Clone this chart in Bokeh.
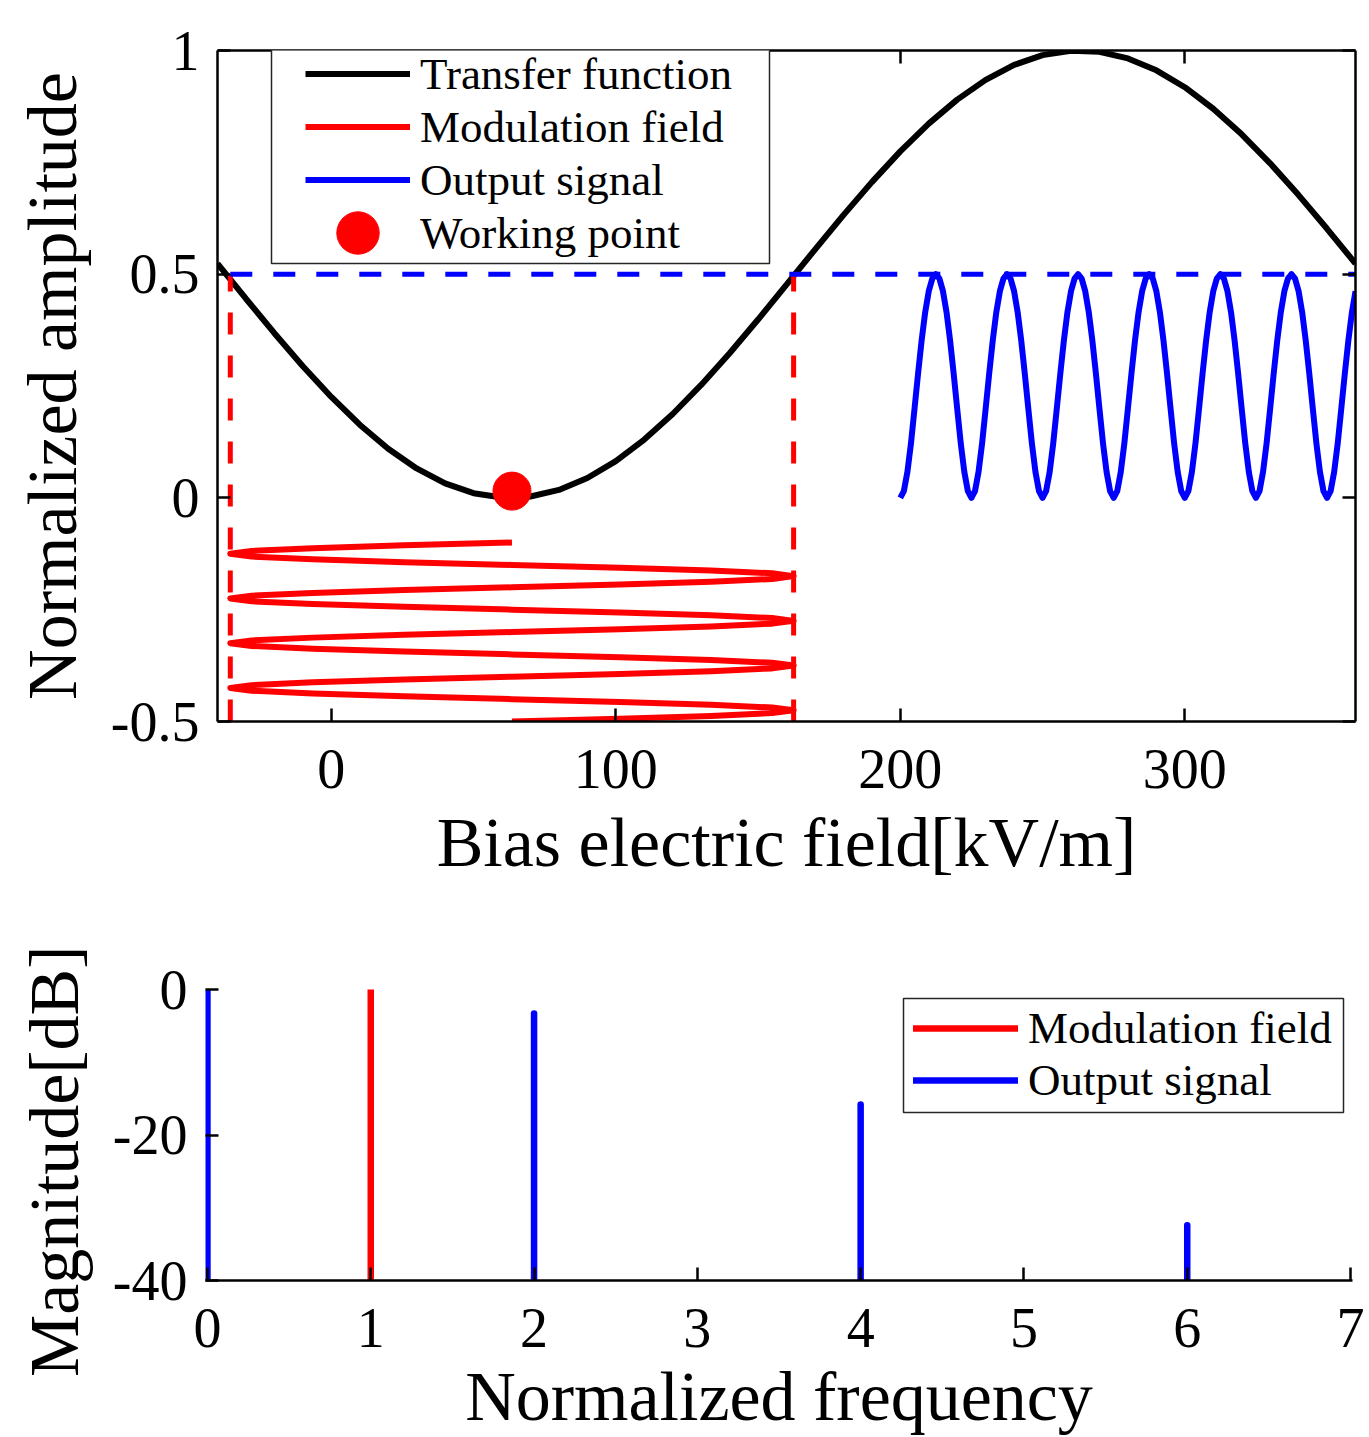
import numpy as np
from bokeh.plotting import figure
from bokeh.models import Range1d, LinearAxis, FixedTicker, Legend, LegendItem, BoxAnnotation
from bokeh.embed import file_html
from bokeh.resources import INLINE

FONT = "Liberation Serif"

# ---------------- top panel data ----------------
tf_x = np.arange(-40, 361, 10)
tf_y = [0.5236, 0.4451, 0.3681, 0.2942, 0.2255, 0.1635, 0.1098, 0.0657, 0.0323, 0.0104,
        0.0006, 0.0030, 0.0177, 0.0443, 0.0821, 0.1302, 0.1874, 0.2523, 0.3233, 0.3986,
        0.4764, 0.5549, 0.6320, 0.7058, 0.7745, 0.8365, 0.8902, 0.9343, 0.9677, 0.9896,
        0.9994, 0.9970, 0.9823, 0.9557, 0.9179, 0.8698, 0.8126, 0.7477, 0.6767, 0.6014,
        0.5236]

mod_x = [63.5, 25.6, -6.5, -28.0, -35.5, -28.0, -6.5, 25.6, 63.5, 101.4, 133.5, 155.0, 162.5, 155.0, 133.5, 101.4,
         63.5, 25.6, -6.5, -28.0, -35.5, -28.0, -6.5, 25.6, 63.5, 101.4, 133.5, 155.0, 162.5, 155.0, 133.5, 101.4,
         63.5, 25.6, -6.5, -28.0, -35.5, -28.0, -6.5, 25.6, 63.5, 101.4, 133.5, 155.0, 162.5, 155.0, 133.5, 101.4,
         63.5, 25.6, -6.5, -28.0, -35.5, -28.0, -6.5, 25.6, 63.5, 101.4, 133.5, 155.0, 162.5, 155.0, 133.5, 101.4,
         63.5]
mod_y = [-0.1, -0.10625, -0.1125, -0.11875, -0.125, -0.13125, -0.1375, -0.14375,
         -0.15, -0.15625, -0.1625, -0.16875, -0.175, -0.18125, -0.1875, -0.19375,
         -0.2, -0.20625, -0.2125, -0.21875, -0.225, -0.23125, -0.2375, -0.24375,
         -0.25, -0.25625, -0.2625, -0.26875, -0.275, -0.28125, -0.2875, -0.29375,
         -0.3, -0.30625, -0.3125, -0.31875, -0.325, -0.33125, -0.3375, -0.34375,
         -0.35, -0.35625, -0.3625, -0.36875, -0.375, -0.38125, -0.3875, -0.39375,
         -0.4, -0.40625, -0.4125, -0.41875, -0.425, -0.43125, -0.4375, -0.44375,
         -0.45, -0.45625, -0.4625, -0.46875, -0.475, -0.48125, -0.4875, -0.49375,
         -0.5]

out_x = np.arange(200, 360.001, 1.25)
out_y = [0, 0.015, 0.058, 0.122, 0.199, 0.278, 0.352, 0.415, 0.462, 0.490, 0.5, 0.490, 0.462, 0.415, 0.352, 0.278, 0.199, 0.122, 0.058, 0.015,
         0, 0.015, 0.058, 0.122, 0.199, 0.278, 0.352, 0.415, 0.462, 0.490, 0.5, 0.490, 0.462, 0.415, 0.352, 0.278, 0.199, 0.122, 0.058, 0.015,
         0, 0.015, 0.058, 0.122, 0.199, 0.278, 0.352, 0.415, 0.462, 0.490, 0.5, 0.490, 0.462, 0.415, 0.352, 0.278, 0.199, 0.122, 0.058, 0.015,
         0, 0.015, 0.058, 0.122, 0.199, 0.278, 0.352, 0.415, 0.462, 0.490, 0.5, 0.490, 0.462, 0.415, 0.352, 0.278, 0.199, 0.122, 0.058, 0.015,
         0, 0.015, 0.058, 0.122, 0.199, 0.278, 0.352, 0.415, 0.462, 0.490, 0.5, 0.490, 0.462, 0.415, 0.352, 0.278, 0.199, 0.122, 0.058, 0.015,
         0, 0.015, 0.058, 0.122, 0.199, 0.278, 0.352, 0.415, 0.462, 0.490, 0.5, 0.490, 0.462, 0.415, 0.352, 0.278, 0.199, 0.122, 0.058, 0.015,
         0, 0.015, 0.058, 0.122, 0.199, 0.278, 0.352, 0.415, 0.462]

level_x = [-35.5, 360]          # horizontal 0.5 reference line
level_y = [0.5, 0.5]
swing_left_x = [-35.5, -35.5]   # vertical dashed limits of the modulation
swing_right_x = [162.5, 162.5]
swing_y = [-0.5, 0.5]

wp_x = [63.5]
wp_y = [0.015]

top_x_ticks = [0, 100, 200, 300]
top_x_labels = ["0", "100", "200", "300"]
top_y_ticks = [-0.5, 0, 0.5, 1]
top_y_labels = ["-0.5", "0", "0.5", "1"]

# ---------------- bottom panel data ----------------
spec_floor = -40
mod_freq = [1]
mod_mag = [0]
out_freq = [0, 2, 4, 6]
out_mag = [0, -3.3, -15.8, -32.4]

bot_x_ticks = [0, 1, 2, 3, 4, 5, 6, 7]
bot_x_labels = ["0", "1", "2", "3", "4", "5", "6", "7"]
bot_y_ticks = [-40, -20, 0]
bot_y_labels = ["-40", "-20", "0"]


def style_axis(ax, ticks, labels=None):
    ax.ticker = FixedTicker(ticks=ticks)
    ax.axis_line_width = 2.5
    ax.axis_line_color = "black"
    ax.major_tick_line_width = 2.5
    ax.major_tick_line_color = "black"
    ax.major_tick_in = 13
    ax.major_tick_out = 0
    ax.minor_tick_in = 0
    ax.minor_tick_out = 0
    ax.minor_tick_line_color = None
    ax.major_label_text_font = FONT
    ax.major_label_text_color = "black"
    ax.axis_label_text_font = FONT
    ax.axis_label_text_font_size = "70px"
    ax.axis_label_text_font_style = "normal"
    ax.axis_label_text_color = "black"
    if labels is not None:
        ax.major_label_overrides = dict(zip(ticks, labels))
        ax.major_label_text_font_size = "56px"
        ax.major_label_standoff = 18
    else:
        ax.major_label_overrides = {t: "" for t in ticks}
        ax.major_label_text_font_size = "1px"
        ax.major_label_standoff = 0


# ================= top figure =================
W = 1369
TOP_H = 887
top = figure(width=W, height=TOP_H, x_range=Range1d(-40, 360), y_range=Range1d(-0.5, 1),
             output_backend="svg", toolbar_location=None,
             min_border_left=217, min_border_right=W - 1355, min_border_top=50,
             min_border_bottom=TOP_H - 721)
top.grid.visible = False
top.outline_line_color = None
top.background_fill_color = "white"
top.border_fill_color = "white"

r_tf = top.line(tf_x, tf_y, line_color="black", line_width=6)
top.line(swing_left_x, swing_y, line_color="red", line_width=5, line_dash="22 21")
top.line(swing_right_x, swing_y, line_color="red", line_width=5, line_dash="22 21")
top.line(level_x, level_y, line_color="blue", line_width=5, line_dash="22 21")
r_mod = top.line(mod_x, mod_y, line_color="red", line_width=6, line_join="round")
r_out = top.line(out_x, out_y, line_color="blue", line_width=6, line_join="round")
r_wp = top.ellipse(x=wp_x, y=wp_y, width=38, height=38, width_units="screen", height_units="screen",
                   fill_color="red", line_color="red")

xa = top.xaxis[0]
style_axis(xa, top_x_ticks, top_x_labels)
xa.major_label_standoff = 28
xa.axis_label = "Bias electric field[kV/m]"
xa.axis_label_standoff = 13

ya = top.yaxis[0]
style_axis(ya, top_y_ticks, top_y_labels)
ya.axis_label = "Normalized amplitude"
ya.axis_label_standoff = 17

ax_above = LinearAxis()
style_axis(ax_above, top_x_ticks)
top.add_layout(ax_above, "above")
ax_right = LinearAxis()
style_axis(ax_right, top_y_ticks)
top.add_layout(ax_right, "right")

box_top = BoxAnnotation(left=271, right=769, top=45, bottom=263,
                        left_units="canvas", right_units="canvas", top_units="canvas", bottom_units="canvas",
                        fill_color="white", fill_alpha=1.0, line_color="#262626", line_alpha=1.0, line_width=1.5)
top.add_layout(box_top)

leg_top = Legend(items=[LegendItem(label="Transfer function", renderers=[r_tf]),
                        LegendItem(label="Modulation field", renderers=[r_mod]),
                        LegendItem(label="Output signal", renderers=[r_out]),
                        LegendItem(label="Working point", renderers=[r_wp])],
                 location=(83, 457), orientation="vertical",
                 glyph_width=105, glyph_height=53, label_height=53, label_standoff=10,
                 spacing=0, padding=5, margin=0,
                 label_text_font=FONT, label_text_font_size="45px", label_text_color="black",
                 border_line_alpha=0, background_fill_alpha=0)
top.add_layout(leg_top, "center")

# ================= bottom figure =================
BOT_H = 1437 - TOP_H
bot = figure(width=W, height=BOT_H, x_range=Range1d(-0.012, 7.012), y_range=Range1d(-40, 0),
             output_backend="svg", toolbar_location=None,
             min_border_left=205, min_border_right=W - 1352, min_border_top=989 - TOP_H,
             min_border_bottom=1437 - 1281)
bot.grid.visible = False
bot.outline_line_color = None
bot.background_fill_color = "white"
bot.border_fill_color = "white"

r_smod = bot.segment(x0=mod_freq, y0=[spec_floor] * len(mod_freq), x1=mod_freq, y1=mod_mag,
                     line_color="red", line_width=6.5, line_cap="round")
r_sout = bot.segment(x0=out_freq, y0=[spec_floor] * len(out_freq), x1=out_freq, y1=out_mag,
                     line_color="blue", line_width=6.5, line_cap="round")

bxa = bot.xaxis[0]
style_axis(bxa, bot_x_ticks, bot_x_labels)
bxa.major_label_standoff = 28
bxa.axis_label = "Normalized frequency"
bxa.axis_label_standoff = 8

bya = bot.yaxis[0]
style_axis(bya, bot_y_ticks, bot_y_labels)
bya.axis_label = "Magnitude[dB]" + "\u00a0" * 3
bya.axis_label_standoff = 17
bya.axis_line_alpha = 0

box_bot = BoxAnnotation(left=903, right=1343, top=998 - TOP_H, bottom=1112 - TOP_H,
                        left_units="canvas", right_units="canvas", top_units="canvas", bottom_units="canvas",
                        fill_color="white", fill_alpha=1.0, line_color="#262626", line_alpha=1.0, line_width=1.5)
bot.add_layout(box_bot)

leg_bot = Legend(items=[LegendItem(label="Modulation field", renderers=[r_smod]),
                        LegendItem(label="Output signal", renderers=[r_sout])],
                 location=(703, 169), orientation="vertical",
                 glyph_width=105, glyph_height=52, label_height=52, label_standoff=10,
                 spacing=0, padding=5, margin=0,
                 label_text_font=FONT, label_text_font_size="45px", label_text_color="black",
                 border_line_alpha=0, background_fill_alpha=0)
bot.add_layout(leg_bot, "center")

# two independent roots so that each plot keeps its own frame position
open("out.html", "w").write(file_html([top, bot], INLINE))
